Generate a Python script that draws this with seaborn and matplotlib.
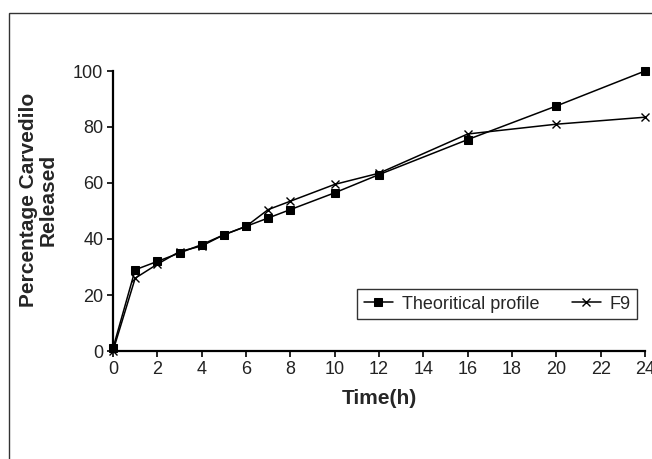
import matplotlib
matplotlib.use("Agg")
import matplotlib.pyplot as plt
import seaborn as sns
import pandas as pd
from matplotlib.patches import Rectangle

# Release data
time_h = [0, 1, 2, 3, 4, 5, 6, 7, 8, 10, 12, 16, 20, 24]
theoretical = [1, 29, 32, 35, 38, 41.5, 44.5, 47.5, 50.5, 56.5, 63, 75.5, 87.5, 100]
f9 = [0, 26, 31, 35.5, 37.5, 41.5, 44.5, 50.5, 53.5, 59.5, 63.5, 77.5, 81, 83.5]

sns.set_style("white")
plt.rcParams["font.family"] = ["Liberation Sans", "DejaVu Sans"]

fig = plt.figure(figsize=(6.52, 4.59), dpi=100)
ax = fig.add_axes([113 / 652, 1 - 351 / 459, 532 / 652, 280 / 459])

sns.lineplot(x=time_h, y=theoretical, marker="s", color="black", linewidth=1.1,
             markersize=5.5, markeredgecolor="black", markerfacecolor="black",
             label="Theoritical profile", ax=ax, clip_on=False)
sns.lineplot(x=time_h, y=f9, marker="x", color="black", linewidth=1.1,
             markersize=6, markeredgewidth=1.0, markeredgecolor="black",
             label="F9", ax=ax, clip_on=False)

ax.set_xlim(0, 24)
ax.set_ylim(0, 100)
ax.set_xticks(range(0, 25, 2))
ax.set_yticks(range(0, 101, 20))
sns.despine(ax=ax)
for s in ["left", "bottom"]:
    ax.spines[s].set_color("black")
    ax.spines[s].set_linewidth(1.6)
ax.tick_params(axis="both", which="major", direction="out", length=4, width=1.2,
               color="black", labelsize=13, labelcolor="#222222", pad=3,
               bottom=True, left=True)

ax.set_xlabel("Time(h)", fontsize=15, fontweight="bold", labelpad=8)
ax.set_ylabel("Percentage Carvedilo\nReleased", fontsize=15, fontweight="bold",
              linespacing=1.0)
ax.yaxis.set_label_coords(-0.105, 0.54)

leg = ax.legend(loc="lower right", bbox_to_anchor=(0.985, 0.114), ncol=2,
                frameon=True, fancybox=False, shadow=False, fontsize=13,
                handlelength=1.6, handletextpad=0.5, columnspacing=1.8,
                borderaxespad=0, borderpad=0.35)
leg.get_frame().set_edgecolor("black")
leg.get_frame().set_linewidth(1.0)

# outer frame of the original figure (cut off at right and bottom)
fig.patches.append(Rectangle((9 / 652, -0.1), 1.2, 1.1 - 13 / 459,
                             transform=fig.transFigure, fill=False,
                             edgecolor="#333333", linewidth=1.0))

fig.savefig("out.png", dpi=100)
